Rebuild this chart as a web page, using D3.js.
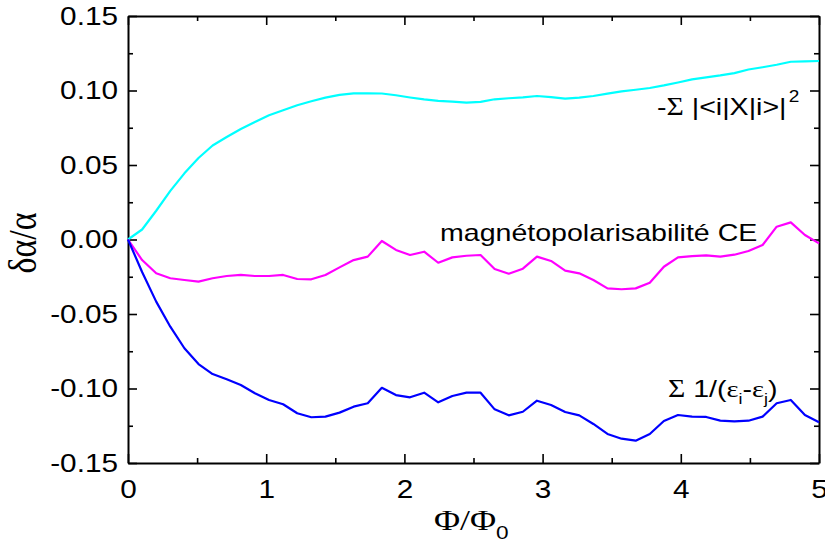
<!DOCTYPE html>
<html>
<head>
<meta charset="utf-8">
<script src="https://cdn.jsdelivr.net/npm/d3@7"></script>
<style>
  html, body { margin: 0; padding: 0; background: #fff; }
  svg { display: block; }
  svg text { fill: #000; }
</style>
</head>
<body>
<div id="chart"></div>
<script>
// ---- data (x = i * 5/49, i = 0..49) ----
const nPoints = 50;
const xMax = 5;
const xValues = d3.range(nPoints).map(i => i * xMax / (nPoints - 1));

const sumX2 = [0, 0.0067, 0.0193, 0.0326, 0.0444, 0.0547, 0.0631, 0.0688, 0.0742, 0.0789,
  0.0834, 0.0867, 0.0901, 0.0928, 0.0952, 0.0971, 0.0981, 0.0981, 0.0980, 0.0968,
  0.0953, 0.0940, 0.0931, 0.0925, 0.0919, 0.0924, 0.0941, 0.0948, 0.0954, 0.0963,
  0.0955, 0.0946, 0.0952, 0.0963, 0.0979, 0.0994, 0.1005, 0.1017, 0.1034, 0.1054,
  0.1075, 0.1088, 0.1101, 0.1117, 0.1141, 0.1156, 0.1173, 0.1193, 0.1196, 0.1198];

const magnetoCE = [0, -0.0138, -0.0227, -0.0260, -0.0272, -0.0283, -0.0260, -0.0245, -0.0238, -0.0245,
  -0.0245, -0.0238, -0.0265, -0.0267, -0.0238, -0.0187, -0.0138, -0.0115, -0.0010, -0.0070,
  -0.0104, -0.0082, -0.0156, -0.0120, -0.0109, -0.0104, -0.0198, -0.0230, -0.0196, -0.0115,
  -0.0144, -0.0209, -0.0227, -0.0272, -0.0328, -0.0334, -0.0328, -0.0290, -0.0183, -0.0120,
  -0.0111, -0.0106, -0.0115, -0.0102, -0.0077, -0.0037, 0.0086, 0.0115, 0.0030, -0.0026];

const sumInvE = [0, -0.0218, -0.0417, -0.0585, -0.0730, -0.0836, -0.0903, -0.0938, -0.0977, -0.1032,
  -0.1077, -0.1106, -0.1166, -0.1193, -0.1189, -0.1162, -0.1122, -0.1099, -0.0995, -0.1044,
  -0.1059, -0.1028, -0.1093, -0.1050, -0.1028, -0.1028, -0.1140, -0.1180, -0.1156, -0.1082,
  -0.1111, -0.1158, -0.1180, -0.1238, -0.1305, -0.1337, -0.1350, -0.1305, -0.1218, -0.1178,
  -0.1189, -0.1191, -0.1216, -0.1220, -0.1216, -0.1189, -0.1099, -0.1077, -0.1178, -0.1227];

const xTicks = [0, 1, 2, 3, 4, 5];
const xMinorTicks = [0.5, 1.5, 2.5, 3.5, 4.5];
const yTicks = [-0.15, -0.10, -0.05, 0.00, 0.05, 0.10, 0.15];
const yMinorTicks = [-0.125, -0.075, -0.025, 0.025, 0.075, 0.125];
const yTickLabels = ["-0.15", "-0.10", "-0.05", "0.00", "0.05", "0.10", "0.15"];

const seriesColors = ["#00ffff", "#ff00ff", "#0000ff"];

// ---- layout ----
const W = 825, H = 545;
const margin = { left: 128, top: 16, right: 6, bottom: 82 };
const SX = 1.19; // horizontal text stretch of the original
const sans = "'Liberation Sans', Arial, Helvetica, sans-serif";
const serif = "'Liberation Serif', 'Times New Roman', serif";

const svg = d3.select("#chart").append("svg").attr("width", W).attr("height", H)
  .style("font-family", sans);

const x = d3.scaleLinear().domain([0, xMax]).range([margin.left, W - margin.right]);
const y = d3.scaleLinear().domain([-0.15, 0.15]).range([H - margin.bottom, margin.top]);

const major = 9, minor = 5;

function styleAxis(g) {
  g.select(".domain").attr("stroke", "#000").attr("stroke-width", 2);
  g.selectAll(".tick line").attr("stroke", "#000").attr("stroke-width", 1.6);
}
function minorStyle(g) {
  g.select(".domain").remove();
  g.selectAll(".tick line").attr("stroke", "#000").attr("stroke-width", 1.6);
}

// bottom
const gB = svg.append("g").attr("transform", `translate(0,${y(-0.15)})`)
  .call(d3.axisBottom(x).tickValues(xTicks).tickSize(-major).tickSizeOuter(0).tickPadding(17)
    .tickFormat(d3.format("d")));
styleAxis(gB);
gB.attr("font-family", null).attr("font-size", null);
gB.selectAll(".tick text").style("font-size", "25px").style("font-family", sans)
  .attr("transform", `scale(${SX},1)`);
svg.append("g").attr("transform", `translate(0,${y(-0.15)})`)
  .call(d3.axisBottom(x).tickValues(xMinorTicks).tickSize(-minor).tickFormat(""))
  .call(minorStyle);

// top
const gT = svg.append("g").attr("transform", `translate(0,${y(0.15)})`)
  .call(d3.axisTop(x).tickValues(xTicks).tickSize(-major).tickSizeOuter(0).tickFormat(""));
styleAxis(gT);
svg.append("g").attr("transform", `translate(0,${y(0.15)})`)
  .call(d3.axisTop(x).tickValues(xMinorTicks).tickSize(-minor).tickFormat(""))
  .call(minorStyle);

// left
const gL = svg.append("g").attr("transform", `translate(${x(0)},0)`)
  .call(d3.axisLeft(y).tickValues(yTicks).tickSize(-major).tickSizeOuter(0).tickPadding(8)
    .tickFormat((d, i) => yTickLabels[i]));
styleAxis(gL);
gL.selectAll(".tick text").style("font-size", "25px").style("font-family", sans)
  .attr("x", -10 / SX)
  .attr("transform", `scale(${SX},1)`);
svg.append("g").attr("transform", `translate(${x(0)},0)`)
  .call(d3.axisLeft(y).tickValues(yMinorTicks).tickSize(-minor).tickFormat(""))
  .call(minorStyle);

// right
const gR = svg.append("g").attr("transform", `translate(${x(xMax)},0)`)
  .call(d3.axisRight(y).tickValues(yTicks).tickSize(-major).tickSizeOuter(0).tickFormat(""));
styleAxis(gR);
svg.append("g").attr("transform", `translate(${x(xMax)},0)`)
  .call(d3.axisRight(y).tickValues(yMinorTicks).tickSize(-minor).tickFormat(""))
  .call(minorStyle);

// ---- lines ----
const line = d3.line().x((d, i) => x(xValues[i])).y(d => y(d));
[sumX2, magnetoCE, sumInvE].forEach((s, k) => {
  svg.append("path").datum(s)
    .attr("fill", "none")
    .attr("stroke", seriesColors[k])
    .attr("stroke-width", 2.2)
    .attr("stroke-linejoin", "round")
    .attr("d", line);
});

// ---- text helpers ----
function stretchedText(px, py, size) {
  return svg.append("text")
    .attr("transform", `translate(${px},${py}) scale(${SX},1)`)
    .style("font-family", sans)
    .style("font-size", size + "px");
}

// annotation: cyan
const t1 = stretchedText(657, 115, 24);
t1.append("tspan").text("-");
t1.append("tspan").style("font-family", serif).style("font-size", "25px").text("Σ");
t1.append("tspan").text(" |<i|X|i>|");
t1.append("tspan").style("font-size", "16px").attr("dy", -13).attr("dx", 2).text("2");

// annotation: magenta
stretchedText(440, 241, 24).text("magnétopolarisabilité CE");

// annotation: blue
const t3 = stretchedText(668, 397, 24);
t3.append("tspan").style("font-family", serif).style("font-size", "25px").text("Σ");
t3.append("tspan").text(" 1/(");
t3.append("tspan").style("font-family", serif).text("ε");
t3.append("tspan").style("font-size", "15px").attr("dy", 7).text("i");
t3.append("tspan").attr("dy", -7).text("-");
t3.append("tspan").style("font-family", serif).text("ε");
t3.append("tspan").style("font-size", "15px").attr("dy", 7).text("j");
t3.append("tspan").attr("dy", -7).text(")");

// x axis title
const tx = stretchedText(434, 530, 30);
tx.append("tspan").style("font-family", serif).text("Φ/Φ");
tx.append("tspan").style("font-size", "19px").attr("dy", 9).text("0");

// y axis title
svg.append("text")
  .attr("transform", `translate(36,243) scale(${SX},1) rotate(-90)`)
  .style("font-size", "34px")
  .style("font-family", serif)
  .attr("text-anchor", "middle")
  .text("δα/α");
</script>
</body>
</html>
